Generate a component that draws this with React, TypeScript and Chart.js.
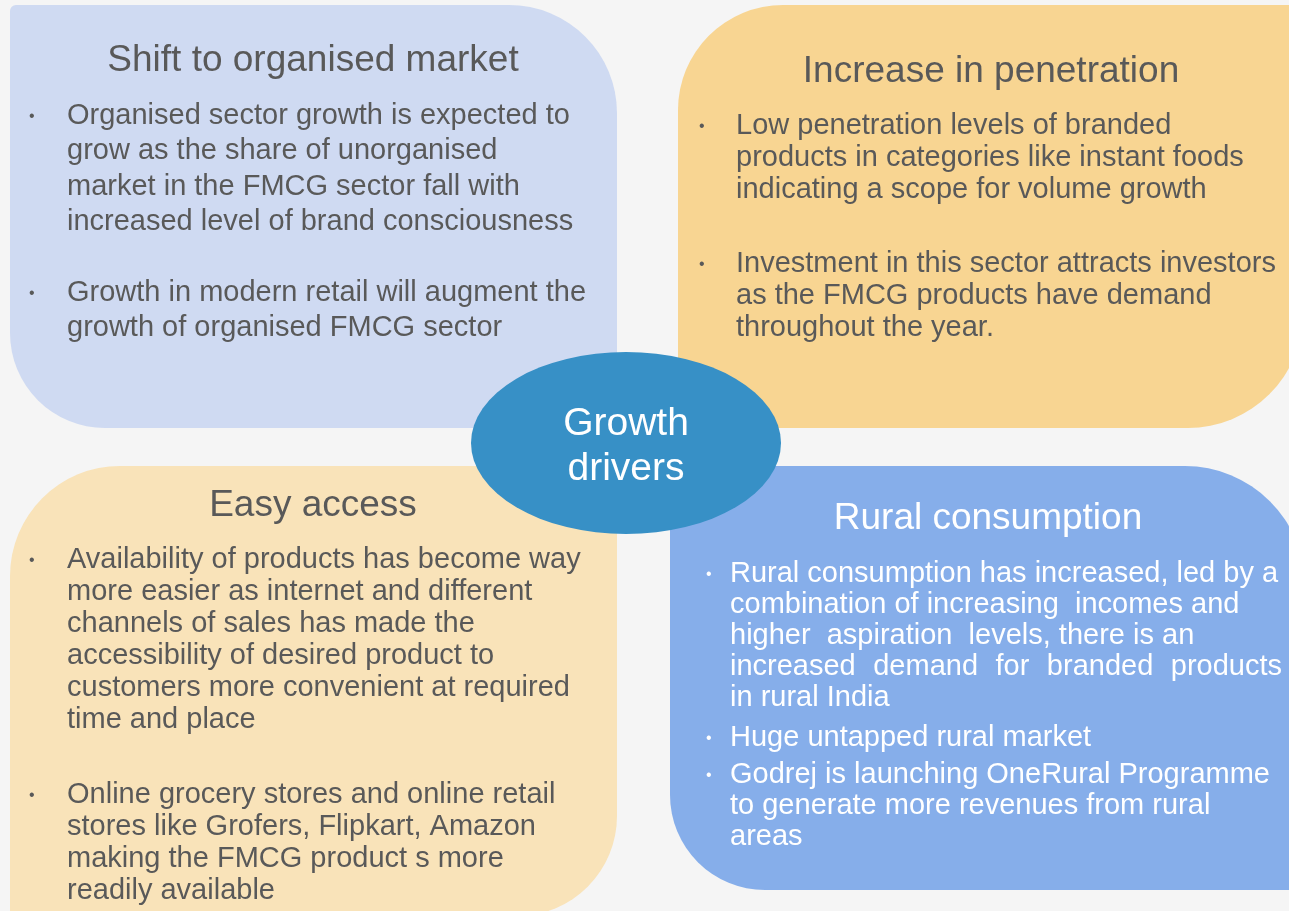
import React, { useEffect, useRef } from "react";
import { Chart, registerables } from "chart.js";

Chart.register(...registerables);

const W = 1289;
const H = 911;

// ---- content ----
const panelTitles = [
  "Shift to organised market",
  "Increase in penetration",
  "Easy access",
  "Rural consumption",
];

const shiftBullets = [
  [
    "Organised sector growth is expected to",
    "grow as the share of unorganised",
    "market in the FMCG sector fall with",
    "increased level of brand consciousness",
  ],
  ["Growth in modern retail will augment the", "growth of organised FMCG sector"],
];

const penetrationBullets = [
  [
    "Low penetration levels of branded",
    "products in categories like instant foods",
    "indicating a scope for volume growth",
  ],
  [
    "Investment in this sector attracts investors",
    "as the FMCG products have demand",
    "throughout the year.",
  ],
];

const accessBullets = [
  [
    "Availability of products has become way",
    "more easier as internet and different",
    "channels of sales has made the",
    "accessibility of desired product to",
    "customers more convenient at required",
    "time and place",
  ],
  [
    "Online grocery stores and online retail",
    "stores like Grofers, Flipkart, Amazon",
    "making the FMCG product s more",
    "readily available",
  ],
];

const ruralBullets = [
  [
    "Rural consumption has increased, led by a",
    "combination of increasing  incomes and",
    "higher  aspiration  levels, there is an",
    "increased demand for branded products",
    "in rural India",
  ],
  ["Huge untapped rural market"],
  [
    "Godrej is launching OneRural Programme",
    "to generate more revenues from rural",
    "areas",
  ],
];

const centerLabel = ["Growth", "drivers"];

// ---- layout & style (kept apart from content) ----
const FONT = '"Liberation Sans", Arial, sans-serif';
const BG = "#f5f5f5";

type Panel = {
  x: number; y: number; w: number; h: number;
  radii: [number, number, number, number]; // tl, tr, br, bl
  fill: string; text: string;
  titleX: number; titleBase: number;
  bulletX: number; textX: number;
  starts: number[]; gap: number;
  bullets: string[][];
  justify?: { b: number; l: number; width: number };
};

const panels: Panel[] = [
  {
    x: 10, y: 5, w: 607, h: 423, radii: [6, 108, 0, 95],
    fill: "#cfdaf2", text: "#595959",
    titleX: 313, titleBase: 71, bulletX: 29, textX: 67,
    starts: [124, 301], gap: 35.3, bullets: shiftBullets,
  },
  {
    x: 678, y: 5, w: 625, h: 423, radii: [105, 6, 115, 6],
    fill: "#f8d592", text: "#595959",
    titleX: 991, titleBase: 82, bulletX: 699, textX: 736,
    starts: [134, 272], gap: 32, bullets: penetrationBullets,
  },
  {
    x: 10, y: 466, w: 607, h: 450, radii: [110, 6, 100, 0],
    fill: "#f9e3b9", text: "#595959",
    titleX: 313, titleBase: 516, bulletX: 29, textX: 67,
    starts: [568, 803], gap: 32, bullets: accessBullets,
  },
  {
    x: 670, y: 466, w: 635, h: 424, radii: [6, 120, 0, 95],
    fill: "#86aeea", text: "#ffffff",
    titleX: 988, titleBase: 529, bulletX: 706, textX: 730,
    starts: [582, 746, 783], gap: 31, bullets: ruralBullets,
    justify: { b: 0, l: 3, width: 552 },
  },
];

const ellipse = { cx: 626, cy: 443, rx: 155, ry: 91, fill: "#3790c6" };

function roundedPath(ctx: CanvasRenderingContext2D, x: number, y: number, w: number, h: number, r: number[]) {
  const [tl, tr, br, bl] = r;
  ctx.beginPath();
  ctx.moveTo(x + tl, y);
  ctx.lineTo(x + w - tr, y);
  if (tr) ctx.arcTo(x + w, y, x + w, y + tr, tr); else ctx.lineTo(x + w, y);
  ctx.lineTo(x + w, y + h - br);
  if (br) ctx.arcTo(x + w, y + h, x + w - br, y + h, br); else ctx.lineTo(x + w, y + h);
  ctx.lineTo(x + bl, y + h);
  if (bl) ctx.arcTo(x, y + h, x, y + h - bl, bl); else ctx.lineTo(x, y + h);
  ctx.lineTo(x, y + tl);
  if (tl) ctx.arcTo(x, y, x + tl, y, tl); else ctx.lineTo(x, y);
  ctx.closePath();
}

const infographicPlugin = {
  id: "infographic",
  beforeDraw(chart: any) {
    const ctx: CanvasRenderingContext2D = chart.ctx;
    const sx = chart.scales.x;
    const sy = chart.scales.y;
    const px = (v: number) => sx.getPixelForValue(v);
    const py = (v: number) => sy.getPixelForValue(v);
    const sw = (v: number) => px(v) - px(0);
    const sh = (v: number) => py(v) - py(0);

    ctx.save();
    ctx.fillStyle = BG;
    ctx.fillRect(0, 0, chart.width, chart.height);

    // panels
    panels.forEach((p) => {
      ctx.fillStyle = p.fill;
      roundedPath(ctx, px(p.x), py(p.y), sw(p.w), sh(p.h), p.radii);
      ctx.fill();
    });

    // center ellipse
    ctx.fillStyle = ellipse.fill;
    ctx.beginPath();
    ctx.ellipse(px(ellipse.cx), py(ellipse.cy), sw(ellipse.rx), sh(ellipse.ry), 0, 0, Math.PI * 2);
    ctx.fill();

    ctx.textBaseline = "alphabetic";

    // panel text
    panels.forEach((p, i) => {
      ctx.fillStyle = p.text;
      ctx.textAlign = "center";
      ctx.font = `37px ${FONT}`;
      ctx.fillText(panelTitles[i], px(p.titleX), py(p.titleBase));

      p.bullets.forEach((lines, b) => {
        const base = p.starts[b];
        ctx.textAlign = "left";
        ctx.font = `16px ${FONT}`;
        ctx.fillText("\u2022", px(p.bulletX), py(base - 3));
        ctx.font = `29px ${FONT}`;
        lines.forEach((line, l) => {
          const y = py(base + l * p.gap);
          if (p.justify && p.justify.b === b && p.justify.l === l) {
            const words = line.split(/\s+/);
            const total = words.reduce((s, w) => s + ctx.measureText(w).width, 0);
            const space = (sw(p.justify.width) - total) / (words.length - 1);
            let x = px(p.textX);
            words.forEach((w) => {
              ctx.fillText(w, x, y);
              x += ctx.measureText(w).width + space;
            });
          } else {
            ctx.fillText(line, px(p.textX), y);
          }
        });
      });
    });

    // center label
    ctx.fillStyle = "#ffffff";
    ctx.textAlign = "center";
    ctx.font = `39px ${FONT}`;
    ctx.fillText(centerLabel[0], px(626), py(435));
    ctx.fillText(centerLabel[1], px(626), py(480));

    ctx.restore();
  },
};

export default function App() {
  const ref = useRef<HTMLCanvasElement | null>(null);

  useEffect(() => {
    const prevMargin = document.body.style.margin;
    document.body.style.margin = "0";
    if (!ref.current) return;
    const chart = new Chart(ref.current, {
      type: "scatter",
      data: { datasets: [{ data: [], pointRadius: 0 }] },
      options: {
        animation: false,
        responsive: false,
        events: [],
        layout: { padding: 0 },
        plugins: { legend: { display: false }, tooltip: { enabled: false }, title: { display: false } },
        scales: {
          x: { type: "linear", min: 0, max: W, display: false },
          y: { type: "linear", min: 0, max: H, reverse: true, display: false },
        },
      },
      plugins: [infographicPlugin],
    });
    return () => {
      chart.destroy();
      document.body.style.margin = prevMargin;
    };
  }, []);

  return (
    <div style={{ width: W, height: H, background: BG, overflow: "hidden" }}>
      <canvas ref={ref} width={W} height={H} style={{ display: "block", width: W, height: H }} />
    </div>
  );
}
